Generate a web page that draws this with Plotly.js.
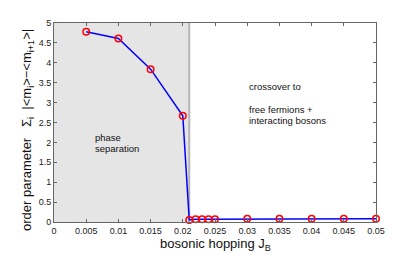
<!DOCTYPE html>
<html><head><meta charset="utf-8">
<script src="https://cdn.plot.ly/plotly-3.0.1.min.js"></script>
<style>body{margin:0;background:#fff}#p{width:415px;height:255px}</style>
</head><body><div id="p"></div>
<script>
const hopping = [0.005, 0.01, 0.015, 0.02, 0.021, 0.022, 0.023, 0.024, 0.025, 0.03, 0.035, 0.04, 0.045, 0.05];
const orderParam = [4.78, 4.61, 3.84, 2.67, 0.05, 0.07, 0.07, 0.07, 0.07, 0.08, 0.08, 0.08, 0.08, 0.08];
const phaseBoundary = 0.021;
const xTicks = [0, 0.005, 0.01, 0.015, 0.02, 0.025, 0.03, 0.035, 0.04, 0.045, 0.05];
const yTicks = [0, 0.5, 1, 1.5, 2, 2.5, 3, 3.5, 4, 4.5, 5];

const font = "Liberation Sans, Arial, sans-serif";
const traces = [
  {x: hopping, y: orderParam, mode: 'lines', line: {color: '#0000ff', width: 1.5}, cliponaxis: false},
  {x: hopping, y: orderParam, mode: 'markers', cliponaxis: false, marker: {symbol: 'circle-open', color: '#ff0000', size: 6.5, line: {width: 1.5, color: '#ff0000'}}}
];
const axisCommon = {showline: true, linecolor: '#666', linewidth: 1, mirror: 'ticks', ticks: 'inside', ticklen: 3, tickcolor: '#666', showgrid: false, zeroline: false, tickfont: {family: font, size: 9, color: '#222'}};
const txt = (x, y, text, size, extra) => Object.assign({xref: 'paper', yref: 'paper', x: x, y: y, xanchor: 'left', yanchor: 'middle', showarrow: false, text: text, font: {family: font, size: size, color: '#111'}}, extra || {});
const layout = {
  width: 415, height: 255,
  margin: {l: 54, r: 39, t: 23, b: 33},
  paper_bgcolor: '#fff', plot_bgcolor: '#fff',
  showlegend: false,
  font: {family: font},
  xaxis: Object.assign({}, axisCommon, {range: [0, 0.05], tickvals: xTicks, ticktext: xTicks.map(String)}),
  yaxis: Object.assign({}, axisCommon, {range: [0, 5], tickvals: yTicks, ticktext: yTicks.map(String)}),
  shapes: [
    {type: 'rect', xref: 'x', yref: 'y', x0: 0, x1: phaseBoundary, y0: 0, y1: 5, fillcolor: '#e5e5e5', line: {width: 0}, layer: 'below'},
    {type: 'line', xref: 'x', yref: 'y', x0: phaseBoundary, x1: phaseBoundary, y0: 0, y1: 5, line: {color: '#b5b5b5', width: 2}, layer: 'below'}
  ],
  annotations: [
    txt(0.5, -0.115, 'bosonic hopping J<sub>B</sub>', 13, {xanchor: 'center'}),
    txt(-0.084, 0.462, 'order parameter   Σ<sub>i</sub>  |&lt;m<sub>i</sub>&gt;−&lt;m<sub>i+1</sub>&gt;|', 13, {xanchor: 'center', textangle: -90}),
    txt(0.12, 0.424, 'phase', 9.5),
    txt(0.12, 0.367, 'separation', 9.5),
    txt(0.598, 0.683, 'crossover to', 9.5),
    txt(0.598, 0.565, 'free fermions +', 9.5),
    txt(0.598, 0.512, 'interacting bosons', 9.5)
  ]
};
Plotly.newPlot('p', traces, layout, {staticPlot: true, displayModeBar: false});
</script></body></html>
